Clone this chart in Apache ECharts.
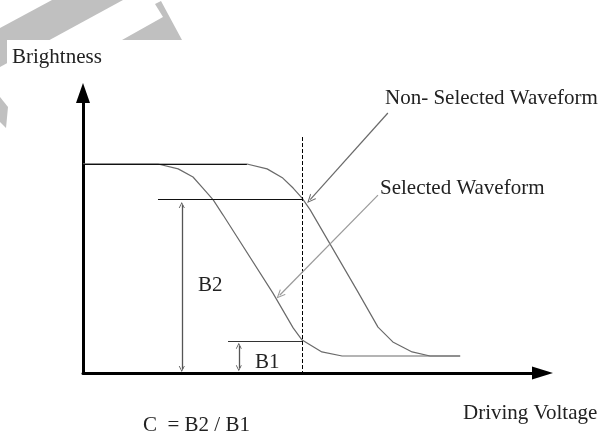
<!DOCTYPE html>
<html>
<head>
<meta charset="utf-8">
<script src="https://cdn.jsdelivr.net/npm/echarts@6/dist/echarts.min.js"></script>
<style>
  html, body { margin: 0; padding: 0; background: #fff; }
  #main { width: 604px; height: 434px; }
</style>
</head>
<body>
<div id="main"></div>
<script>
// driving voltage (0..10) and brightness (0..100)
let voltSelected = [0, 1.67, 2.12, 2.45, 2.67, 2.90, 3.12, 4.23, 4.68, 4.88, 5.32, 5.77, 8.40]
let brightSelected = [77.4, 77.4, 75.6, 72.6, 68.5, 64.1, 58.5, 29.6, 16.7, 12.2, 7.8, 6.3, 6.3]

let voltNonSelected = [0, 3.65, 4.10, 4.45, 4.68, 4.88, 5.06, 6.10, 6.57, 6.90, 7.33, 7.73, 8.40]
let brightNonSelected = [77.4, 77.4, 75.6, 72.2, 68.5, 64.8, 60.4, 30.7, 17.0, 11.5, 7.8, 6.3, 6.3]

// operating point and the two brightness levels
let driveVolt = 4.88
let levelB2 = 64.4
let levelB1 = 11.9
let b2Start = 1.67
let b1Start = 3.23
let b2ArrowX = 2.20
let b1ArrowX = 3.47

let labels = {
  yName: "Brightness",
  xName: "Driving Voltage",
  nonSel: "Non- Selected Waveform",
  sel: "Selected Waveform",
  b2: "B2",
  b1: "B1",
  formula: "C  = B2 / B1"
}

function zip(xs, ys) {
  let out = []
  for (let i = 0; i < xs.length; i++) {
    out.push([xs[i], ys[i]])
  }
  return out
}

// open "V" arrow head, tip at top
let chevron = "path://M0,10 L5,0 L10,10 L8.6,10 L5,2.8 L1.4,10 Z"

let myChart = echarts.init(document.getElementById("main"), null, { renderer: "canvas" })

let textFont = '21px "Liberation Serif", "Times New Roman", serif'
let gray = "#c0c0c0"

let option = {
  animation: false,
  backgroundColor: "#fff",
  grid: { left: 83, right: 72, top: 103, bottom: 61 },
  xAxis: {
    type: "value",
    min: 0,
    max: 10,
    axisLine: {
      show: true,
      symbol: ["none", "triangle"],
      symbolSize: [13, 21],
      symbolOffset: [0, 10.5],
      lineStyle: { color: "#000", width: 3 }
    },
    axisTick: { show: false },
    axisLabel: { show: false },
    splitLine: { show: false }
  },
  yAxis: {
    type: "value",
    min: 0,
    max: 100,
    axisLine: {
      show: true,
      symbol: ["none", "triangle"],
      symbolSize: [14, 20],
      symbolOffset: [0, 10],
      lineStyle: { color: "#000", width: 3 }
    },
    axisTick: { show: false },
    axisLabel: { show: false },
    splitLine: { show: false }
  },
  graphic: [
    // faint watermark in the corner
    { type: "polygon", z: -10, shape: { points: [[0, 28], [52, 0], [123, 0], [0, 67]] }, style: { fill: gray } },
    { type: "polygon", z: -10, shape: { points: [[122, 40], [163, 17], [155, 4], [161, 1], [182, 40]] }, style: { fill: gray } },
    { type: "polygon", z: -10, shape: { points: [[0, 97], [8, 107], [6, 128], [0, 122]] }, style: { fill: gray } },
    { type: "rect", z: -9, shape: { x: 7, y: 40, width: 200, height: 60 }, style: { fill: "#fff" } },
    { type: "text", x: 12, y: 57, style: { text: labels.yName, font: textFont, fill: "#222", verticalAlign: "middle" } },
    { type: "text", x: 463, y: 413, style: { text: labels.xName, font: textFont, fill: "#222", verticalAlign: "middle" } },
    { type: "text", x: 385, y: 98, style: { text: labels.nonSel, font: textFont, fill: "#222", verticalAlign: "middle" } },
    { type: "text", x: 380, y: 188, style: { text: labels.sel, font: textFont, fill: "#222", verticalAlign: "middle" } },
    { type: "text", x: 198, y: 285, style: { text: labels.b2, font: textFont, fill: "#222", verticalAlign: "middle" } },
    { type: "text", x: 255, y: 362, style: { text: labels.b1, font: textFont, fill: "#222", verticalAlign: "middle" } },
    { type: "text", x: 143, y: 425, style: { text: labels.formula, font: textFont, fill: "#222", verticalAlign: "middle" } }
  ],
  series: [
    {
      name: "Selected",
      type: "line",
      data: zip(voltSelected, brightSelected),
      symbol: "none",
      lineStyle: { color: "#6a6a6a", width: 1.2 },
      silent: true
    },
    {
      name: "Non-Selected",
      type: "line",
      data: zip(voltNonSelected, brightNonSelected),
      symbol: "none",
      lineStyle: { color: "#6a6a6a", width: 1.2 },
      silent: true
    },
    {
      name: "guides",
      type: "line",
      data: [],
      silent: true,
      markLine: {
        silent: true,
        animation: false,
        label: { show: false },
        emphasis: { disabled: true },
        symbol: "none",
        data: [
          // shared upper plateau
          [
            { coord: [0, brightNonSelected[0]], lineStyle: { color: "#111", width: 1.2, type: "solid" } },
            { coord: [voltNonSelected[1], brightNonSelected[1]] }
          ],
          // B2 level
          [
            { coord: [b2Start, levelB2], lineStyle: { color: "#111", width: 1.2, type: "solid" } },
            { coord: [driveVolt, levelB2] }
          ],
          // B1 level
          [
            { coord: [b1Start, levelB1], lineStyle: { color: "#333", width: 1.2, type: "solid" } },
            { coord: [driveVolt, levelB1] }
          ],
          // operating voltage
          [
            { coord: [driveVolt, 87.4], lineStyle: { color: "#000", width: 1, type: [4, 2] } },
            { coord: [driveVolt, 0] }
          ],
          // B2 double arrow
          [
            { coord: [b2ArrowX, levelB2 - 2.2], symbol: chevron, symbolSize: [6, 6], lineStyle: { color: "#555", width: 1.3, type: "solid" } },
            { coord: [b2ArrowX, 1.5], symbol: chevron, symbolSize: [6, 6] }
          ],
          // B1 double arrow
          [
            { coord: [b1ArrowX, levelB1 - 1.8], symbol: chevron, symbolSize: [6, 6], lineStyle: { color: "#555", width: 1.3, type: "solid" } },
            { coord: [b1ArrowX, 1.8], symbol: chevron, symbolSize: [6, 6] }
          ],
          // pointer to non-selected curve
          [
            { coord: [6.79, 96.3], symbol: "none", lineStyle: { color: "#6a6a6a", width: 1.2, type: "solid" } },
            { coord: [5.06, 64.2], symbol: chevron, symbolSize: [8, 9] }
          ],
          // pointer to selected curve
          [
            { coord: [6.57, 65.9], symbol: "none", lineStyle: { color: "#9a9a9a", width: 1.2, type: "solid" } },
            { coord: [4.38, 28.8], symbol: chevron, symbolSize: [8, 9] }
          ]
        ]
      }
    }
  ]
}

myChart.setOption(option)
window.onresize = function () {
  myChart.resize()
}
</script>
</body>
</html>
